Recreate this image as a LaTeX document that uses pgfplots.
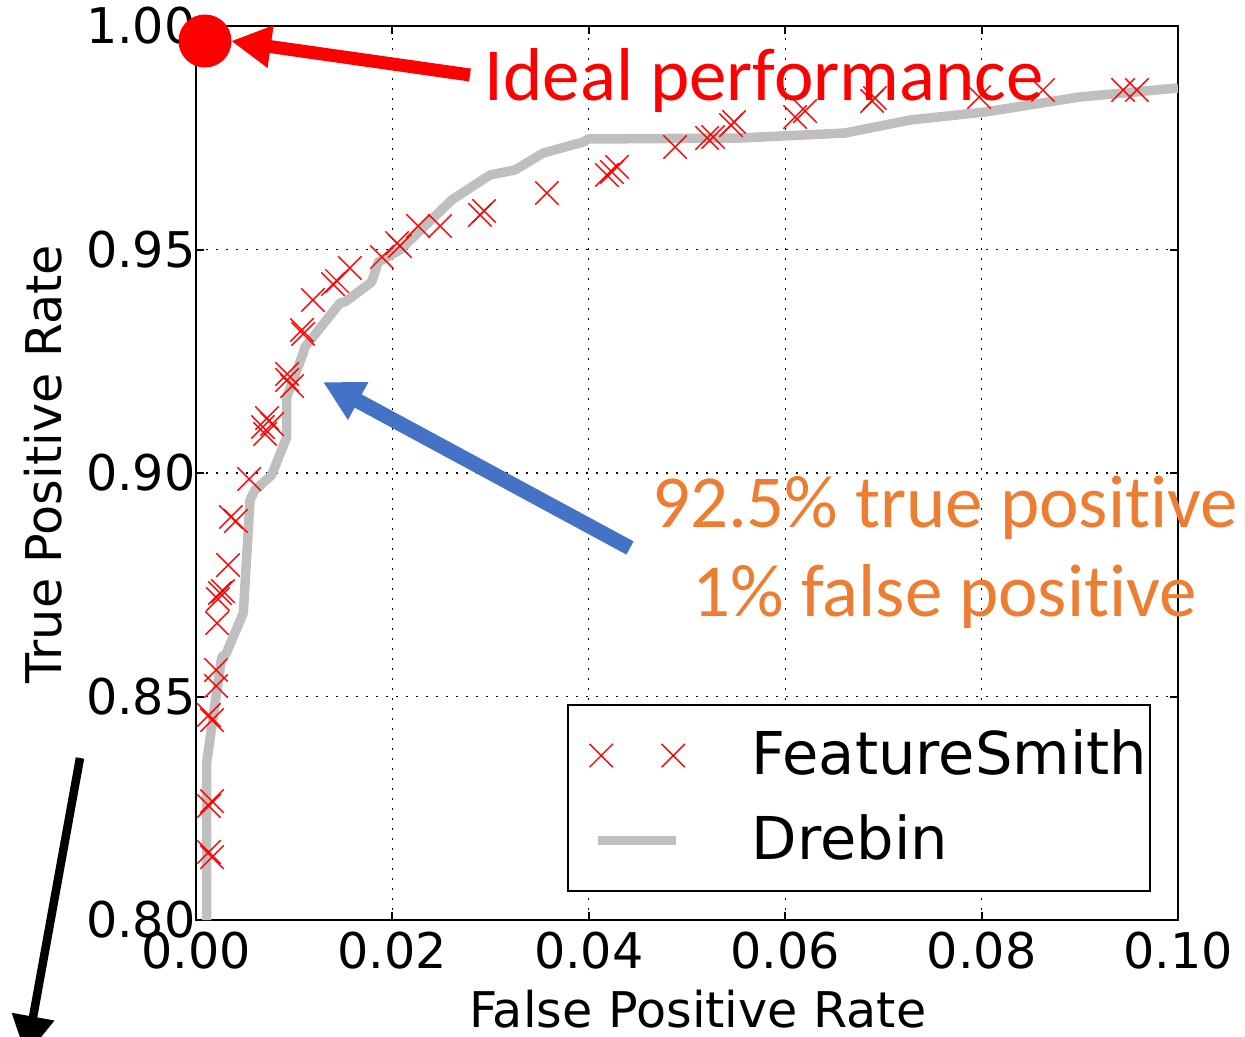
\documentclass[border=0pt]{standalone}
\usepackage{pgfplots}
\pgfplotsset{compat=1.18}
\usepackage{fontspec}
\setmainfont{DejaVu Sans}
\newfontfamily\calibri[Ligatures=NoCommon]{Carlito}
\usetikzlibrary{arrows.meta}
\definecolor{fsred}{RGB}{255,0,0}
\definecolor{drebin}{RGB}{191,191,191}
\definecolor{annblue}{RGB}{68,114,196}
\definecolor{annorange}{RGB}{237,125,49}
\pgfplotsset{
  fslegend/.style={legend image code/.code={\path (-2.6mm,0mm) (0.3mm,0mm);
    \draw[##1] plot coordinates {(0.3mm,0mm) (7.5mm,0mm)};}},
  drlegend/.style={legend image code/.code={\draw[##1] (0mm,0mm) -- (7.8mm,0mm);}},
}

\begin{document}
\begin{tikzpicture}
\begin{axis}[
  scale only axis,
  width=98.2mm, height=89.4mm,
  xmin=0, xmax=0.1, ymin=0.8, ymax=1.0,
  xtick={0,0.02,0.04,0.06,0.08,0.1},
  ytick={0.8,0.85,0.9,0.95,1.0},
  tick label style={/pgf/number format/fixed, /pgf/number format/fixed zerofill,
    /pgf/number format/precision=2, font=\fontsize{14}{16}\selectfont},
  yticklabel style={xshift=1.2mm},
  /pgf/number format/assume math mode=true,
  label style={font=\fontsize{14}{16}\selectfont},
  grid=major,
  major grid style={black, line width=0.13mm, dash pattern=on 0.17mm off 0.83mm},
  axis line style={line width=0.2mm},
  tick style={black, line width=0.2mm},
  major tick length=0.8mm,
  tick align=inside,
  xlabel={False Positive Rate},
  ylabel={True Positive Rate},
  xlabel style={at={(axis description cs:0.511,-0.1197)}, anchor=base, inner sep=0pt},
  ylabel style={at={(axis description cs:-0.1354,0.510)}, anchor=south, inner sep=0pt},
  legend cell align=left,
  legend style={at={(axis cs:0.09725,0.84832)}, anchor=north east,
    draw=black, line width=0.2mm, fill=white,
    inner xsep=0.3mm, inner ysep=2.6mm, row sep=3.6mm,
    font=\fontsize{16.8}{20}\selectfont,
    nodes={inner sep=0pt, text height=4.3mm, text depth=0.6mm},
    /tikz/every odd column/.append style={column sep=6.7mm}},
]
% FeatureSmith
\addplot[only marks, mark=x, mark size=1.65mm, color=fsred,
  mark options={line width=0.4pt}, fslegend]
  coordinates {
    (0.00163,0.82662) (0.00132,0.82550) (0.00163,0.81409) (0.00132,0.81521)
    (0.00163,0.84474) (0.00132,0.84586) (0.00204,0.85593) (0.00204,0.85235)
    (0.00214,0.86644) (0.00244,0.87315) (0.00275,0.87360) (0.00224,0.87181)
    (0.00326,0.87942) (0.00356,0.89016) (0.00407,0.88926) (0.00540,0.89866)
    (0.00723,0.91230) (0.00774,0.91096) (0.00703,0.90872) (0.00682,0.91029)
    (0.00927,0.92081) (0.00978,0.91946) (0.00927,0.92215) (0.01079,0.93199)
    (0.01090,0.93110) (0.01191,0.93870) (0.01395,0.94228) (0.01436,0.94295)
    (0.01568,0.94586) (0.01894,0.94832) (0.02047,0.95145) (0.02077,0.95078)
    (0.02261,0.95526) (0.02485,0.95526) (0.02892,0.95772) (0.02933,0.95861)
    (0.03574,0.96264) (0.04185,0.96667) (0.04287,0.96846) (0.04236,0.96734)
    (0.04878,0.97293) (0.05204,0.97494) (0.05265,0.97517) (0.05448,0.97785)
    (0.05479,0.97852) (0.06100,0.97964) (0.06202,0.98098) (0.06884,0.98322)
    (0.06914,0.98389) (0.07974,0.98412) (0.08625,0.98568) (0.09440,0.98568)
    (0.09582,0.98568)
  };
\addlegendentry{FeatureSmith}
% Drebin
\addplot[drebin, line width=0.95mm, line join=round, drlegend]
  coordinates {
    (0.00109,0.80000) (0.00109,0.83535) (0.00262,0.85884) (0.00305,0.85951)
    (0.00482,0.86868) (0.00550,0.89396) (0.00601,0.89620) (0.00771,0.89955)
    (0.00924,0.90805) (0.00924,0.91700) (0.01093,0.92685) (0.01110,0.92819)
    (0.01466,0.93803) (0.01517,0.93826) (0.01789,0.94273) (0.01856,0.94720)
    (0.02077,0.94989) (0.02604,0.96107) (0.02790,0.96376) (0.02994,0.96667)
    (0.03248,0.96779) (0.03537,0.97159) (0.03944,0.97405) (0.03995,0.97472)
    (0.05540,0.97494) (0.06609,0.97606) (0.07271,0.97897) (0.08035,0.98076)
    (0.09002,0.98412) (0.10000,0.98613)
  };
\addlegendentry{Drebin}
\coordinate (dot) at (axis cs:0.000917,0.996644);
\coordinate (rA) at (axis cs:0.027902,0.989038);
\coordinate (rB) at (axis cs:0.003564,0.996644);
\coordinate (bA) at (axis cs:0.044196,0.883221);
\coordinate (bB) at (axis cs:0.012933,0.920358);
\coordinate (kA) at (axis cs:-0.011813,0.836242);
\coordinate (kB) at (axis cs:-0.017312,0.769575);
\coordinate (ideal) at (axis cs:0.029328,0.983221);
\coordinate (t1) at (axis cs:0.076273,0.88792);
\coordinate (t2) at (axis cs:0.076273,0.86779);
\coordinate (bbl) at (axis cs:-0.019959,0.774049);
\coordinate (bbr) at (axis cs:0.106823,1.005817);
\end{axis}
\fill[fsred] (dot) circle[radius=2.65mm];
\draw[fsred, line width=1.3mm, -{Triangle[length=4mm,width=4mm]}] (rA) -- (rB);
\draw[annblue, line width=1.5mm, -{Triangle[length=4mm,width=4mm]}] (bA) -- (bB);
\draw[black, line width=0.85mm, -{Triangle[length=4mm,width=4.1mm]}] (kA) -- (kB);
\node[anchor=base west, inner sep=0pt, text=fsred, font=\calibri\fontsize{21.3}{25}\selectfont] at (ideal) {Ideal performance};
\node[anchor=base, inner sep=0pt, text=annorange, font=\calibri\fontsize{21.3}{25}\selectfont] at (t1) {92.5\% true positive};
\node[anchor=base, inner sep=0pt, text=annorange, font=\calibri\fontsize{21.3}{25}\selectfont] at (t2) {1\% false positive};
\pgfresetboundingbox
\path[use as bounding box] (bbl) rectangle (bbr);
\end{tikzpicture}
\end{document}
